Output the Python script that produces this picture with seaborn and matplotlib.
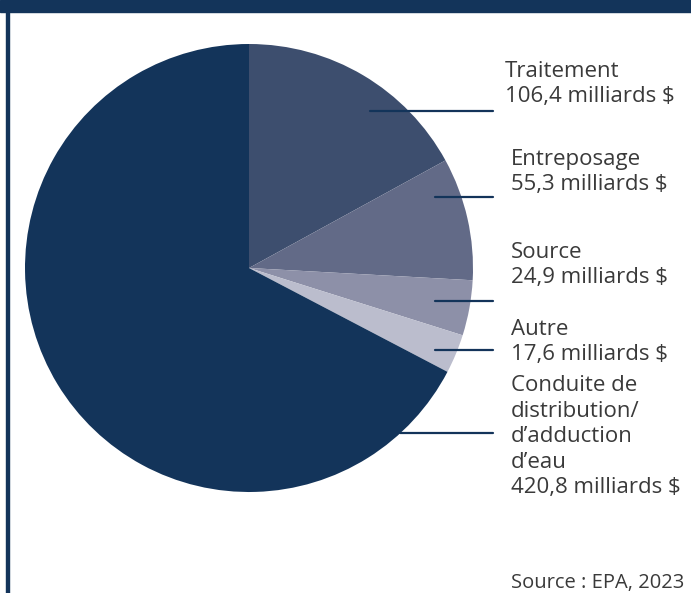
import matplotlib
matplotlib.use("Agg")
import matplotlib.pyplot as plt
import seaborn as sns

# Besoins d'investissement en infrastructure d'eau potable (milliards $)
categories = ["Traitement", "Entreposage", "Source", "Autre",
              "Conduite de\ndistribution/\nd\u2019adduction\nd\u2019eau"]
values = [106.4, 55.3, 24.9, 17.6, 420.8]
value_labels = ["106,4 milliards $", "55,3 milliards $", "24,9 milliards $",
                "17,6 milliards $", "420,8 milliards $"]
colors = ["#3d4e6e", "#626a87", "#8d90a8", "#bbbdcd", "#13345a"]
source_note = "Source : EPA, 2023"

sns.set_theme(style="white")
plt.rcParams["font.family"] = ["Open Sans", "DejaVu Sans"]

W, H = 691, 593
fig = plt.figure(figsize=(W / 100, H / 100), dpi=100)
fig.patch.set_facecolor("white")

def px(x, y):
    """pixel (from top-left) -> figure fraction"""
    return x / W, 1 - y / H

# frame: top band and left rule
navy = "#13345a"
fig.patches.append(plt.Rectangle((0, 1 - 12 / H), 1, 12 / H, transform=fig.transFigure,
                                 color=navy, zorder=0))
fig.patches.append(plt.Rectangle((6 / W, 0), 3 / W, 1 - 12 / H, transform=fig.transFigure,
                                 color=navy, zorder=0))

# pie
cx, cy, r = 249, 268, 224
ax = fig.add_axes([(cx - r) / W, 1 - (cy + r) / H, 2 * r / W, 2 * r / H])
ax.pie(values, colors=colors, startangle=90, counterclock=False, radius=1,
       wedgeprops=dict(linewidth=0))
ax.set_xlim(-1, 1)
ax.set_ylim(-1, 1)
ax.set_aspect("auto")
ax.axis("off")

# leader lines (pixel y, start x) and label positions (x, baseline of last line)
leaders = [(111, 370), (197, 435), (301, 435), (350, 435), (433, 400)]
label_pos = [(505, 102), (511, 190), (511, 283), (511, 360), (511, 493)]
text_color = "#3a3a3a"
fsize = 16
for (ly, lx), (tx, ty), cat, val in zip(leaders, label_pos, categories, value_labels):
    x0, y0 = px(lx, ly)
    x1, _ = px(493, ly)
    fig.add_artist(plt.Line2D([x0, x1], [y0, y0], transform=fig.transFigure,
                              color=navy, linewidth=1.6, zorder=5))
    fx, fy = px(tx, ty)
    fig.text(fx, fy, f"{cat}\n{val}", ha="left", va="baseline", fontsize=fsize,
             color=text_color, linespacing=1.28)

fx, fy = px(511, 588)
fig.text(fx, fy, source_note, ha="left", va="baseline", fontsize=14.5, color=text_color)

fig.savefig("out.png", dpi=100)
